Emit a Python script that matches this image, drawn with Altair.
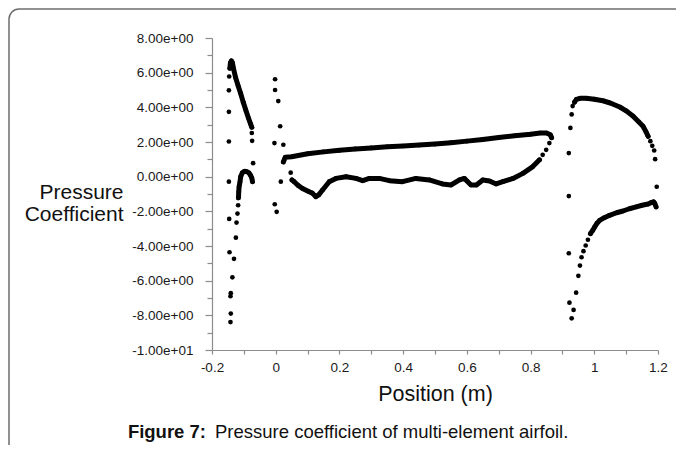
import altair as alt
import pandas as pd

# ---------------- data ----------------
# Slat
slat_upper_x = [-0.144, -0.142, -0.139, -0.136, -0.132, -0.126, -0.118, -0.110, -0.102, -0.094, -0.086, -0.079, -0.075]
slat_upper_y = [6.25, 6.58, 6.68, 6.58, 6.20, 5.72, 5.25, 4.80, 4.30, 3.85, 3.40, 3.05, 2.85]
slat_lower_x = [-0.117, -0.116, -0.115, -0.112, -0.110, -0.105, -0.098, -0.091, -0.084, -0.079, -0.075, -0.073]
slat_lower_y = [-1.22, -0.87, -0.58, -0.29, 0.00, 0.22, 0.31, 0.29, 0.22, 0.08, -0.08, -0.29]
slat_pts_x = [-0.146, -0.147, -0.147, -0.147, -0.147, -0.146, -0.145, -0.141, -0.142, -0.141, -0.142,
              -0.075, -0.074, -0.071, -0.118, -0.120, -0.123, -0.125, -0.131, -0.136]
slat_pts_y = [5.78, 4.98, 3.74, 2.03, -0.29, -2.44, -4.36, -6.72, -6.90, -7.90, -8.39,
              2.52, 2.07, 0.78, -1.65, -2.13, -2.65, -3.52, -4.74, -5.81]

# Main element
main_upper_x = [0.024, 0.030, 0.050, 0.100, 0.150, 0.200, 0.250, 0.300, 0.350, 0.400, 0.450, 0.500,
                0.550, 0.600, 0.650, 0.700, 0.750, 0.800, 0.830, 0.850, 0.862, 0.866]
main_upper_y = [0.85, 1.12, 1.15, 1.32, 1.43, 1.52, 1.60, 1.66, 1.72, 1.77, 1.82, 1.88,
                1.96, 2.05, 2.15, 2.26, 2.36, 2.45, 2.52, 2.52, 2.42, 2.25]
main_lower_x = [0.051, 0.058, 0.070, 0.084, 0.105, 0.115, 0.126, 0.135, 0.147, 0.168, 0.189, 0.221,
                0.252, 0.273, 0.294, 0.325, 0.357, 0.398, 0.440, 0.482, 0.523, 0.550, 0.577, 0.592,
                0.613, 0.630, 0.650, 0.671, 0.692, 0.713, 0.745, 0.776, 0.807, 0.828]
main_lower_y = [-0.19, -0.29, -0.50, -0.68, -0.87, -0.95, -1.16, -1.05, -0.77, -0.29, -0.10, 0.00,
                -0.10, -0.23, -0.10, -0.10, -0.23, -0.29, -0.10, -0.19, -0.42, -0.48, -0.19, -0.10,
                -0.48, -0.48, -0.19, -0.25, -0.42, -0.29, -0.10, 0.19, 0.58, 0.97]
main_pts_x = [-0.002, -0.002, 0.008, 0.014, -0.004, 0.024, 0.016, -0.003, 0.003, 0.047,
              0.859, 0.849, 0.838]
main_pts_y = [5.62, 5.00, 4.36, 2.91, 1.94, 1.84, -0.29, -1.59, -2.03, 0.23,
              1.94, 1.55, 1.26]

# Flap
flap_upper_x = [0.938, 0.944, 0.955, 0.975, 1.000, 1.027, 1.050, 1.080, 1.100, 1.122, 1.140, 1.153,
                1.162, 1.169]
flap_upper_y = [4.30, 4.46, 4.52, 4.52, 4.47, 4.38, 4.25, 4.02, 3.80, 3.49, 3.15, 2.91,
                2.60, 2.33]
flap_lower_x = [1.194, 1.190, 1.186, 1.178, 1.169, 1.150, 1.132, 1.110, 1.090, 1.070, 1.048, 1.030,
                1.017, 1.008, 1.001, 0.995, 0.988]
flap_lower_y = [-1.74, -1.55, -1.45, -1.50, -1.58, -1.65, -1.74, -1.85, -1.98, -2.08, -2.23, -2.38,
                -2.52, -2.70, -2.91, -3.10, -3.29]
flap_pts_x = [0.920, 0.920, 0.920, 0.925, 0.929, 0.932, 1.176, 1.182, 1.188, 1.191, 1.196,
              0.980, 0.973, 0.966, 0.960, 0.955, 0.950, 0.943, 0.922, 0.935, 0.929]
flap_pts_y = [1.36, -1.12, -4.42, 2.81, 3.59, 4.07, 2.05, 1.78, 1.51, 1.01, -0.58,
              -3.64, -3.97, -4.30, -4.65, -5.13, -5.72, -6.69, -7.27, -7.69, -8.17]

# Axis ticks and labels
x_major = [-0.2, 0.0, 0.2, 0.4, 0.6, 0.8, 1.0, 1.2]
x_major_labels = ["-0.2", "0", "0.2", "0.4", "0.6", "0.8", "1", "1.2"]
x_minor = [-0.1, 0.1, 0.3, 0.5, 0.7, 0.9, 1.1]
y_major = [8, 6, 4, 2, 0, -2, -4, -6, -8, -10]
y_major_labels = ["8.00e+00", "6.00e+00", "4.00e+00", "2.00e+00", "0.00e+00",
                  "-2.00e+00", "-4.00e+00", "-6.00e+00", "-8.00e+00", "-1.00e+01"]
y_minor = [7, 5, 3, 1, -1, -3, -5, -7, -9]

x_title = "Position (m)"
y_title = ["Pressure", "Coefficient"]
caption_bold = "Figure 7:"
caption_text = "Pressure coefficient of multi-element airfoil."

# ---------------- build tables ----------------
curves = []
for name, xs, ys in [("slat_upper", slat_upper_x, slat_upper_y),
                     ("slat_lower", slat_lower_x, slat_lower_y),
                     ("main_upper", main_upper_x, main_upper_y),
                     ("main_lower", main_lower_x, main_lower_y),
                     ("flap_upper", flap_upper_x, flap_upper_y),
                     ("flap_lower", flap_lower_x, flap_lower_y)]:
    curves.append(pd.DataFrame({"x": xs, "y": ys, "g": name, "i": range(len(xs))}))
curve_df = pd.concat(curves, ignore_index=True)

pts = []
for xs, ys in [(slat_pts_x, slat_pts_y), (main_pts_x, main_pts_y), (flap_pts_x, flap_pts_y),
               (slat_upper_x, slat_upper_y), (slat_lower_x, slat_lower_y),
               (main_upper_x, main_upper_y), (main_lower_x, main_lower_y),
               (flap_upper_x, flap_upper_y), (flap_lower_x, flap_lower_y)]:
    pts.append(pd.DataFrame({"x": xs, "y": ys}))
pts_df = pd.concat(pts, ignore_index=True)


def label_expr(values, labels):
    expr = "''"
    for v, lab in reversed(list(zip(values, labels))):
        expr = f"abs(datum.value - ({v})) < 1e-6 ? '{lab}' : ({expr})"
    return expr


FONT = "Liberation Sans"
W, H = 446, 312
xscale = alt.Scale(domain=[-0.2, 1.2], nice=False, zero=False)
yscale = alt.Scale(domain=[-10, 8], nice=False, zero=False)

axis_common = dict(grid=False, domainColor="#8c8c8c", tickColor="#8c8c8c", domainWidth=1.2,
                   tickWidth=1.2, labelFont=FONT, labelColor="#1a1a1a", labelFontSize=13.5,
                   labelFlush=False, titleFont=FONT, titleColor="#111111", titleFontWeight="normal")

x_axis_major = alt.Axis(orient="bottom", values=x_major, labelExpr=label_expr(x_major, x_major_labels),
                        tickSize=4, labelPadding=6, title=x_title, titleFontSize=21.5,
                        titleX=W / 2, titleY=44, titleBaseline="middle", **axis_common)
y_axis_major = alt.Axis(orient="left", values=y_major, labelExpr=label_expr(y_major, y_major_labels),
                        tickSize=7, labelPadding=12, title=y_title, titleFontSize=21, titleLineHeight=22,
                        titleAngle=0, titleAlign="right", titleBaseline="middle",
                        titleX=-89, titleY=154, **axis_common)
x_axis_minor = alt.Axis(orient="bottom", values=x_minor, labels=False, domain=False, tickSize=4,
                        title=None, grid=False, tickColor="#8c8c8c", tickWidth=1.2)
y_axis_minor = alt.Axis(orient="left", values=y_minor, labels=False, domain=False, tickSize=5,
                        title=None, grid=False, tickColor="#8c8c8c", tickWidth=1.2)

lines = alt.Chart(curve_df).mark_line(color="black", strokeWidth=5, strokeCap="round",
                                      strokeJoin="round").encode(
    x=alt.X("x:Q", scale=xscale, axis=x_axis_major),
    y=alt.Y("y:Q", scale=yscale, axis=y_axis_major),
    detail="g:N",
    order="i:Q",
)

points = alt.Chart(pts_df).mark_circle(color="black", size=22, opacity=1).encode(
    x=alt.X("x:Q", scale=xscale, axis=x_axis_minor),
    y=alt.Y("y:Q", scale=yscale, axis=y_axis_minor),
)

one = pd.DataFrame({"a": [0]})
border = alt.Chart(one).mark_rect(fillOpacity=0, stroke="#6e6e6e", strokeWidth=1.5,
                                  cornerRadius=10).encode(
    x=alt.value(-203), x2=alt.value(490), y=alt.value(-29), y2=alt.value(480)
)

cap_df = pd.DataFrame({"b": [caption_bold], "t": [caption_text]})
cap_bold = alt.Chart(cap_df).mark_text(font=FONT, fontSize=18.5, fontWeight="bold", align="right",
                                       baseline="middle", color="#111111").encode(
    text="b:N", x=alt.value(-6), y=alt.value(394)
)
cap_reg = alt.Chart(cap_df).mark_text(font=FONT, fontSize=18.5, align="left",
                                      baseline="middle", color="#111111").encode(
    text="t:N", x=alt.value(3), y=alt.value(394)
)

chart = alt.layer(border, lines, points, cap_bold, cap_reg).resolve_axis(
    x="independent", y="independent"
).properties(
    width=W, height=H,
    autosize=alt.AutoSizeParams(type="none"),
    padding={"left": 204, "top": 30, "right": 18, "bottom": 95},
    background="white",
).configure_view(stroke=None)

chart.save("out.html", embed_options={"renderer": "svg", "actions": False})
